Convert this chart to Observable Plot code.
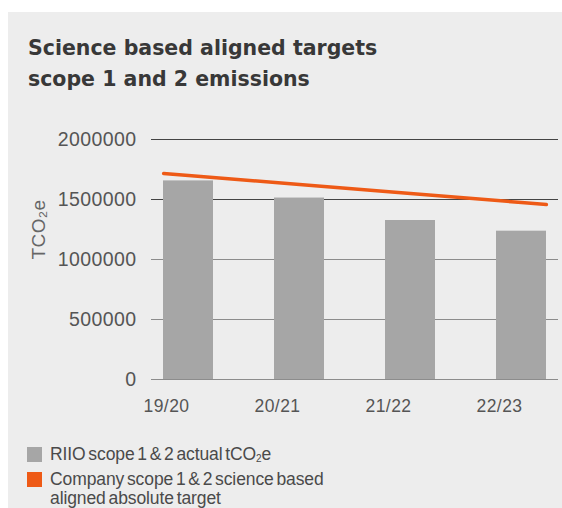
<!DOCTYPE html>
<html><head><meta charset="utf-8">
<script src="https://cdn.jsdelivr.net/npm/d3@7"></script>
<script src="https://cdn.jsdelivr.net/npm/@observablehq/plot@0.6"></script>
<style>
html,body{margin:0;padding:0;background:#fff;width:562px;height:508px;overflow:hidden;}
#panel{position:absolute;left:8px;top:12px;right:0;bottom:0;background:#ededed;}
#title{position:absolute;left:28px;top:33px;font-family:"DejaVu Sans";font-weight:bold;font-size:20.5px;line-height:31px;color:#383838;margin:0;white-space:nowrap;}
#chart{position:absolute;left:0;top:120px;}
#chart svg text{letter-spacing:0.4px;}
.leg{position:absolute;left:27px;font-family:"Liberation Sans";font-size:17.5px;line-height:19px;color:#4a4a4a;word-spacing:-2px;letter-spacing:-0.1px;}
.sw{position:absolute;left:0;top:2px;width:15px;height:15px;}
.leg .t{position:absolute;left:23px;top:0;white-space:nowrap;}
.leg sub{font-size:10px;vertical-align:-2px;line-height:0;}
</style></head><body>
<div id="panel"></div>
<div id="title">Science based aligned targets<br>scope 1 and 2 emissions</div>
<div id="chart"></div>
<div class="leg" id="leg1" style="top:445px"><div class="sw"></div><div class="t"></div></div>
<div class="leg" id="leg2" style="top:470px"><div class="sw"></div><div class="t"></div></div>
<script>
const years = ["19/20", "20/21", "21/22", "22/23"];
const actual = [1655000, 1512000, 1325000, 1236000];
const target = [1700000, 1625000, 1550000, 1475000];
const yTicks = [0, 500000, 1000000, 1500000, 2000000];
const seriesNames = ["RIIO scope 1 & 2 actual tCO<sub>2</sub>e", "Company scope 1 & 2 science based<br>aligned absolute target"];
const seriesColors = ["#a6a6a6", "#ee5a16"];

const rows = years.map((year, i) => ({year, actual: actual[i], target: target[i]}));

const paddingInner = 0.552;
function extendEnds(k) {
  return context => {
    let pts = [];
    return {
      areaStart() {}, areaEnd() {},
      lineStart() { pts = []; },
      point(x, y) { pts.push([+x, +y]); },
      lineEnd() {
        const n = pts.length;
        if (n < 2) return;
        const a = pts[0], b = pts[1], c = pts[n - 2], d = pts[n - 1];
        context.moveTo(a[0] - (b[0] - a[0]) * k, a[1] - (b[1] - a[1]) * k);
        for (const p of pts) context.lineTo(p[0], p[1]);
        context.lineTo(d[0] + (d[0] - c[0]) * k, d[1] + (d[1] - c[1]) * k);
      }
    };
  };
}

const chart = Plot.plot({
  width: 562, height: 300,
  marginTop: 19, marginBottom: 41, marginLeft: 151, marginRight: 4,
  style: {background: "transparent", fontFamily: "Liberation Sans", color: "#555", overflow: "visible"},
  x: {type: "band", domain: years, paddingInner, paddingOuter: 0.0985, label: null},
  y: {domain: [0, 2000000], label: null},
  marks: [
    Plot.ruleY(yTicks, {stroke: d => d >= 1500000 ? "#444" : "#8c8c8c", strokeWidth: 1.2}),
    Plot.barY(rows, {x: "year", y: "actual", fill: seriesColors[0]}),
    Plot.line(rows, {x: "year", y: "target", stroke: seriesColors[1], strokeWidth: 3.5, curve: extendEnds((1 - paddingInner) / 2)}),
    Plot.axisY({ticks: yTicks, tickFormat: "d", tickSize: 0, tickPadding: 15, fontSize: 19.5, fill: "#555", label: null}),
    Plot.axisX({tickSize: 0, tickPadding: 20, fontSize: 17.5, fill: "#555", dx: -22, label: null}),
    Plot.text(["TCO₂e"], {frameAnchor: "left", rotate: -90, dx: -113, fontSize: 19, fill: "#666"})
  ]
});
document.getElementById("chart").appendChild(chart);

["leg1", "leg2"].forEach((id, i) => {
  const el = document.getElementById(id);
  el.querySelector(".sw").style.background = seriesColors[i];
  el.querySelector(".t").innerHTML = seriesNames[i];
});
</script>
</body></html>
